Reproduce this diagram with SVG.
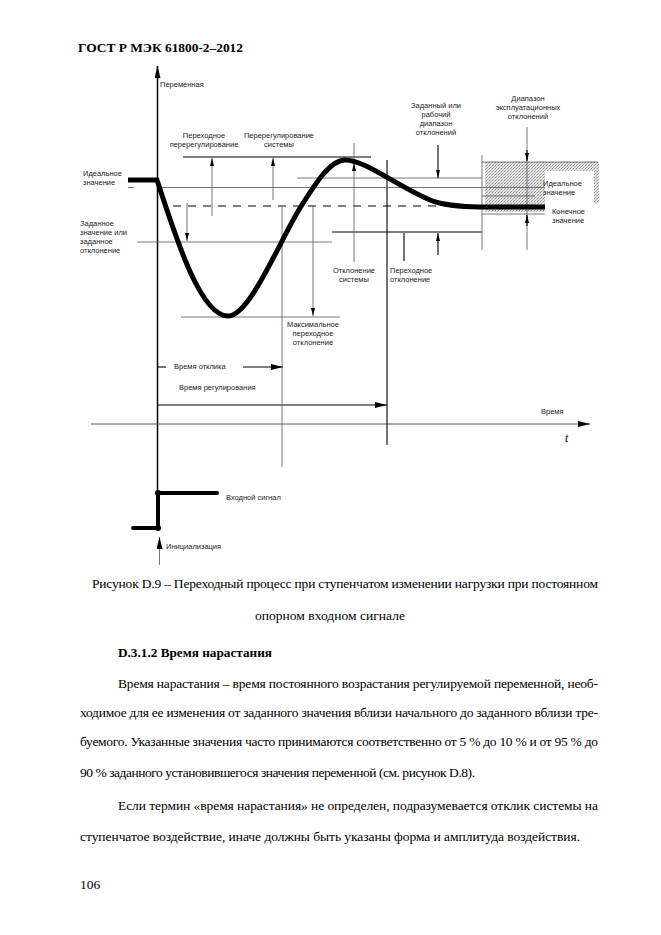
<svg xmlns="http://www.w3.org/2000/svg" width="661" height="935" viewBox="0 0 661 935">
<style>
.lbl{font-family:"Liberation Sans",Arial,sans-serif;font-size:7.5px;fill:#222}
.body{font-family:"Liberation Serif","Times New Roman",serif;font-size:13.5px;fill:#000}
.bold{font-weight:bold}
.thin{stroke:#555;stroke-width:0.8;fill:none}
.blk{stroke:#000;stroke-width:1.1;fill:none}
</style>
<defs>
<marker id="ah" viewBox="0 0 8 4" refX="8" refY="2" markerWidth="8" markerHeight="4" markerUnits="userSpaceOnUse" orient="auto"><path d="M0,0 L8,2 L0,4 z" fill="#000"/></marker>
<marker id="big" viewBox="0 0 12 6" refX="12" refY="3" markerWidth="12" markerHeight="6" markerUnits="userSpaceOnUse" orient="auto"><path d="M0,0 L12,3 L0,6 z" fill="#000"/></marker>
<pattern id="ht" width="3" height="3" patternUnits="userSpaceOnUse"><rect width="3" height="3" fill="#e2e2e2"/><rect width="1" height="1" fill="#8c8c8c"/><rect x="1" y="2" width="1" height="1" fill="#a8a8a8"/><rect x="2" y="1" width="1" height="1" fill="#bdbdbd"/></pattern>
</defs>
<rect width="661" height="935" fill="#fff"/>
<text x="78" y="52" class="body bold" font-size="15" textLength="165" lengthAdjust="spacingAndGlyphs">ГОСТ Р МЭК 61800-2–2012</text>

<g id="shade">
<rect x="485" y="162" width="60" height="50" fill="url(#ht)"/>
<rect x="545" y="162" width="53" height="9" fill="url(#ht)"/>
<rect x="594" y="162" width="5" height="41" fill="url(#ht)"/>
</g>

<g id="connectors">
<line x1="157.5" y1="493" x2="157.5" y2="66" stroke="#000" stroke-width="1.5" marker-end="url(#big)"/>
<line x1="91" y1="424" x2="590" y2="424" stroke="#555" stroke-width="1" marker-end="url(#big)"/>
<line x1="157" y1="405" x2="387" y2="405" class="blk" marker-end="url(#big)"/>
<line x1="157" y1="367" x2="166" y2="367" class="blk"/>
<line x1="243" y1="367" x2="283" y2="367" class="blk" marker-end="url(#big)"/>
<line x1="282" y1="207" x2="282" y2="467" class="thin"/>
<line x1="387" y1="160" x2="387" y2="445" class="blk"/>
<line x1="183" y1="157" x2="371" y2="157" class="blk"/>
<line x1="297" y1="178" x2="482" y2="178" class="thin"/>
<line x1="128" y1="187.5" x2="134" y2="187.5" class="thin"/>
<line x1="157" y1="187.5" x2="545" y2="187.5" class="thin"/>
<line x1="173" y1="206" x2="440" y2="206" stroke="#000" stroke-width="1.2" stroke-dasharray="8,7"/>
<line x1="332" y1="232" x2="482" y2="232" class="blk"/>
<line x1="137" y1="242" x2="332" y2="242" class="thin"/>
<line x1="181" y1="317" x2="340" y2="317" class="thin"/>
<line x1="482" y1="214" x2="545" y2="214" class="thin"/>
<line x1="482" y1="196" x2="535" y2="196" class="thin"/>
<line x1="482" y1="162" x2="598" y2="162" class="thin"/>
<line x1="482" y1="155" x2="482" y2="250" class="thin"/>
<line x1="212" y1="216" x2="212" y2="158" class="thin" marker-end="url(#ah)"/>
<line x1="273" y1="200" x2="273" y2="158" class="thin" marker-end="url(#ah)"/>
<line x1="187" y1="203" x2="187" y2="241" class="thin" marker-end="url(#ah)"/>
<line x1="313" y1="206" x2="313" y2="316" class="thin" marker-end="url(#ah)"/>
<line x1="354" y1="143" x2="354" y2="163" class="thin"/>
<line x1="354" y1="262" x2="354" y2="163" class="thin" marker-end="url(#ah)"/>
<line x1="404" y1="233" x2="404" y2="261" class="blk"/>
<line x1="438" y1="145" x2="438" y2="178" class="blk" marker-end="url(#ah)"/>
<line x1="438" y1="255" x2="438" y2="233" class="blk" marker-end="url(#ah)"/>
<line x1="527" y1="127" x2="527" y2="250" class="thin"/>
<line x1="527" y1="150" x2="527" y2="161" class="blk" marker-end="url(#ah)"/>
<line x1="527" y1="226" x2="527" y2="215" class="blk" marker-end="url(#ah)"/>
<line x1="159.5" y1="565" x2="159.5" y2="537" class="thin" marker-end="url(#big)"/>
</g>

<g id="curve">
<path d="M128,180 L157,180 C175,235 200,316 228,316 C250,316 280,240 300,208 C315,184 330,160 345,160 C365,160 395,185 430,200 C440,204 460,207 480,207 L545,207" fill="none" stroke="#000" stroke-width="5"/>
</g>

<g id="input-signal">
<path d="M133,528 L158,528 L158,493 L217,493" fill="none" stroke="#000" stroke-width="4" stroke-linecap="round"/>
<circle cx="158" cy="493" r="3"/>
<circle cx="158" cy="528" r="3"/>
</g>

<g id="labels">
<text x="160" y="87" class="lbl">Переменная</text>
<text class="lbl" text-anchor="middle"><tspan x="204" y="138">Переходное</tspan><tspan x="204" y="147">перерегулирование</tspan></text>
<text class="lbl" text-anchor="middle"><tspan x="279" y="138">Перерегулирование</tspan><tspan x="279" y="147">системы</tspan></text>
<text class="lbl" text-anchor="middle"><tspan x="436" y="108">Заданный или</tspan><tspan x="436" y="117">рабочий</tspan><tspan x="436" y="126">диапазон</tspan><tspan x="436" y="135">отклонений</tspan></text>
<text class="lbl" text-anchor="middle"><tspan x="528" y="101">Диапазон</tspan><tspan x="528" y="110">эксплуатационных</tspan><tspan x="528" y="119">отклонений</tspan></text>
<text class="lbl"><tspan x="83" y="176">Идеальное</tspan><tspan x="83" y="185">значение</tspan></text>
<text class="lbl"><tspan x="80" y="226">Заданное</tspan><tspan x="80" y="235">значение или</tspan><tspan x="80" y="244">заданное</tspan><tspan x="80" y="253">отклонение</tspan></text>
<text class="lbl"><tspan x="543" y="186">Идеальное</tspan><tspan x="543" y="195">значение</tspan></text>
<text class="lbl"><tspan x="552" y="214">Конечное</tspan><tspan x="552" y="223">значение</tspan></text>
<text class="lbl" text-anchor="middle"><tspan x="354" y="273">Отклонение</tspan><tspan x="354" y="282">системы</tspan></text>
<text class="lbl"><tspan x="390" y="273">Переходное</tspan><tspan x="390" y="282">отклонение</tspan></text>
<text class="lbl" text-anchor="middle"><tspan x="313" y="327">Максимальное</tspan><tspan x="313" y="336">переходное</tspan><tspan x="313" y="345">отклонение</tspan></text>
<text x="174" y="369" class="lbl">Время отклика</text>
<text x="179" y="390" class="lbl">Время регулирования</text>
<text x="541" y="414" class="lbl">Время</text>
<text x="565" y="442" font-family="Liberation Serif,serif" font-style="italic" font-size="12">t</text>
<text x="226" y="500" class="lbl">Входной сигнал</text>
<text x="166" y="549" class="lbl">Инициализация</text>
</g>

<g id="text">
<text x="92" y="588" class="body" textLength="506" lengthAdjust="spacing">Рисунок D.9 – Переходный  процесс при ступенчатом изменении нагрузки при постоянном</text>
<text x="255" y="620" class="body" textLength="150" lengthAdjust="spacing">опорном входном сигнале</text>
<text x="118" y="657" class="body bold" textLength="154" lengthAdjust="spacingAndGlyphs">D.3.1.2 Время нарастания</text>
<text x="118" y="688" class="body" textLength="480" lengthAdjust="spacing">Время нарастания – время постоянного возрастания регулируемой переменной, необ-</text>
<text x="80" y="717" class="body" textLength="518" lengthAdjust="spacing">ходимое для ее изменения от заданного значения вблизи начального до заданного вблизи тре-</text>
<text x="80" y="746" class="body" textLength="518" lengthAdjust="spacing">буемого. Указанные значения часто принимаются соответственно от 5 % до 10 % и от 95 % до</text>
<text x="80" y="777" class="body" textLength="395" lengthAdjust="spacing">90 % заданного установившегося значения переменной (см. рисунок D.8).</text>
<text x="118" y="810" class="body" textLength="480" lengthAdjust="spacing">Если термин «время нарастания» не определен, подразумевается отклик системы на</text>
<text x="80" y="841" class="body" textLength="500" lengthAdjust="spacing">ступенчатое воздействие, иначе должны быть указаны форма и амплитуда воздействия.</text>
<text x="80" y="889" class="body" font-size="12">106</text>
</g>
</svg>
